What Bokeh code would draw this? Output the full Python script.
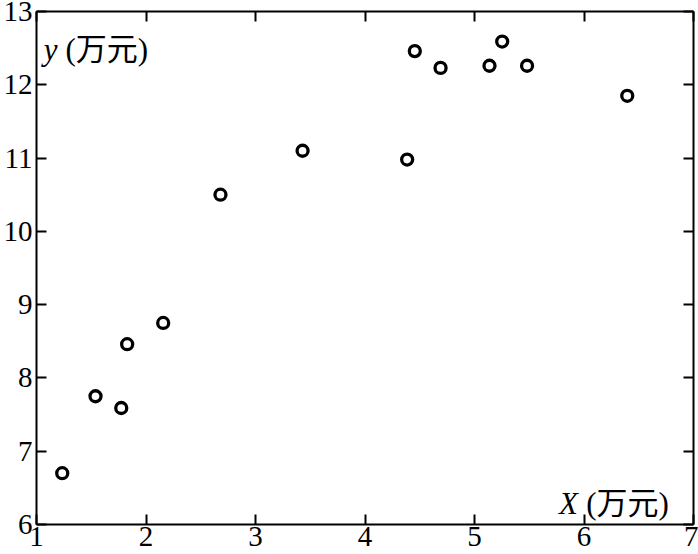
from bokeh.plotting import figure
from bokeh.models import LinearAxis, Range1d, FixedTicker, Label
from bokeh.embed import file_html
from bokeh.resources import INLINE

# data
x_values = [1.235, 1.539, 1.774, 1.828, 2.157, 2.68, 3.43, 4.385, 4.455, 4.69, 5.137, 5.253, 5.48, 6.395]
y_values = [6.70, 7.75, 7.59, 8.46, 8.75, 10.50, 11.10, 10.98, 12.46, 12.23, 12.26, 12.59, 12.26, 11.85]
x_ticks = [1, 2, 3, 4, 5, 6, 7]
y_ticks = [6, 7, 8, 9, 10, 11, 12, 13]
y_name = "y"
x_name = "X"
unit_text = "(万元)"

SERIF = "Liberation Serif"
CJK = "'Liberation Serif', 'Noto Sans CJK SC'"

p = figure(width=698, height=554, output_backend="svg", toolbar_location=None,
           x_range=Range1d(1, 7), y_range=Range1d(6, 13),
           x_axis_location=None, y_axis_location=None,
           min_border_left=36, min_border_right=5, min_border_top=11, min_border_bottom=30)
p.xgrid.visible = False
p.ygrid.visible = False
p.outline_line_color = None
p.background_fill_color = "white"
p.border_fill_color = "white"


def style(ax, labels=True, standoff=2):
    ax.axis_line_color = "black"
    ax.axis_line_width = 2
    ax.major_tick_line_color = "black"
    ax.major_tick_line_width = 2
    ax.major_tick_in = 10
    ax.major_tick_out = 0
    ax.minor_tick_line_color = None
    ax.major_label_text_font = SERIF
    ax.major_label_text_font_size = "29px"
    if labels:
        ax.major_label_text_color = "black"
        ax.major_label_standoff = standoff
    else:
        ax.major_label_text_color = None
        ax.major_label_standoff = 0


xb = LinearAxis(ticker=FixedTicker(ticks=x_ticks))
style(xb, standoff=2)
p.add_layout(xb, "below")
yl = LinearAxis(ticker=FixedTicker(ticks=y_ticks))
style(yl, standoff=4)
p.add_layout(yl, "left")
xt = LinearAxis(ticker=FixedTicker(ticks=x_ticks))
style(xt, labels=False)
p.add_layout(xt, "above")
yr = LinearAxis(ticker=FixedTicker(ticks=y_ticks))
style(yr, labels=False)
p.add_layout(yr, "right")

p.scatter(x_values, y_values, marker="circle", size=11, line_width=3.3,
          line_color="black", fill_color="white")

p.add_layout(Label(x=1.066, y=12.488, text=y_name, text_font=SERIF, text_font_style="italic",
                   text_font_size="31px", text_color="black", text_baseline="alphabetic"))
p.add_layout(Label(x=1.265, y=12.488, text=unit_text, text_font=CJK,
                   text_font_size="31px", text_color="black", text_baseline="alphabetic"))
p.add_layout(Label(x=5.772, y=6.287, text=x_name, text_font=SERIF, text_font_style="italic",
                   text_font_size="31px", text_color="black", text_baseline="alphabetic"))
p.add_layout(Label(x=6.02, y=6.287, text=unit_text, text_font=CJK,
                   text_font_size="31px", text_color="black", text_baseline="alphabetic"))

open("out.html", "w").write(file_html(p, INLINE))
